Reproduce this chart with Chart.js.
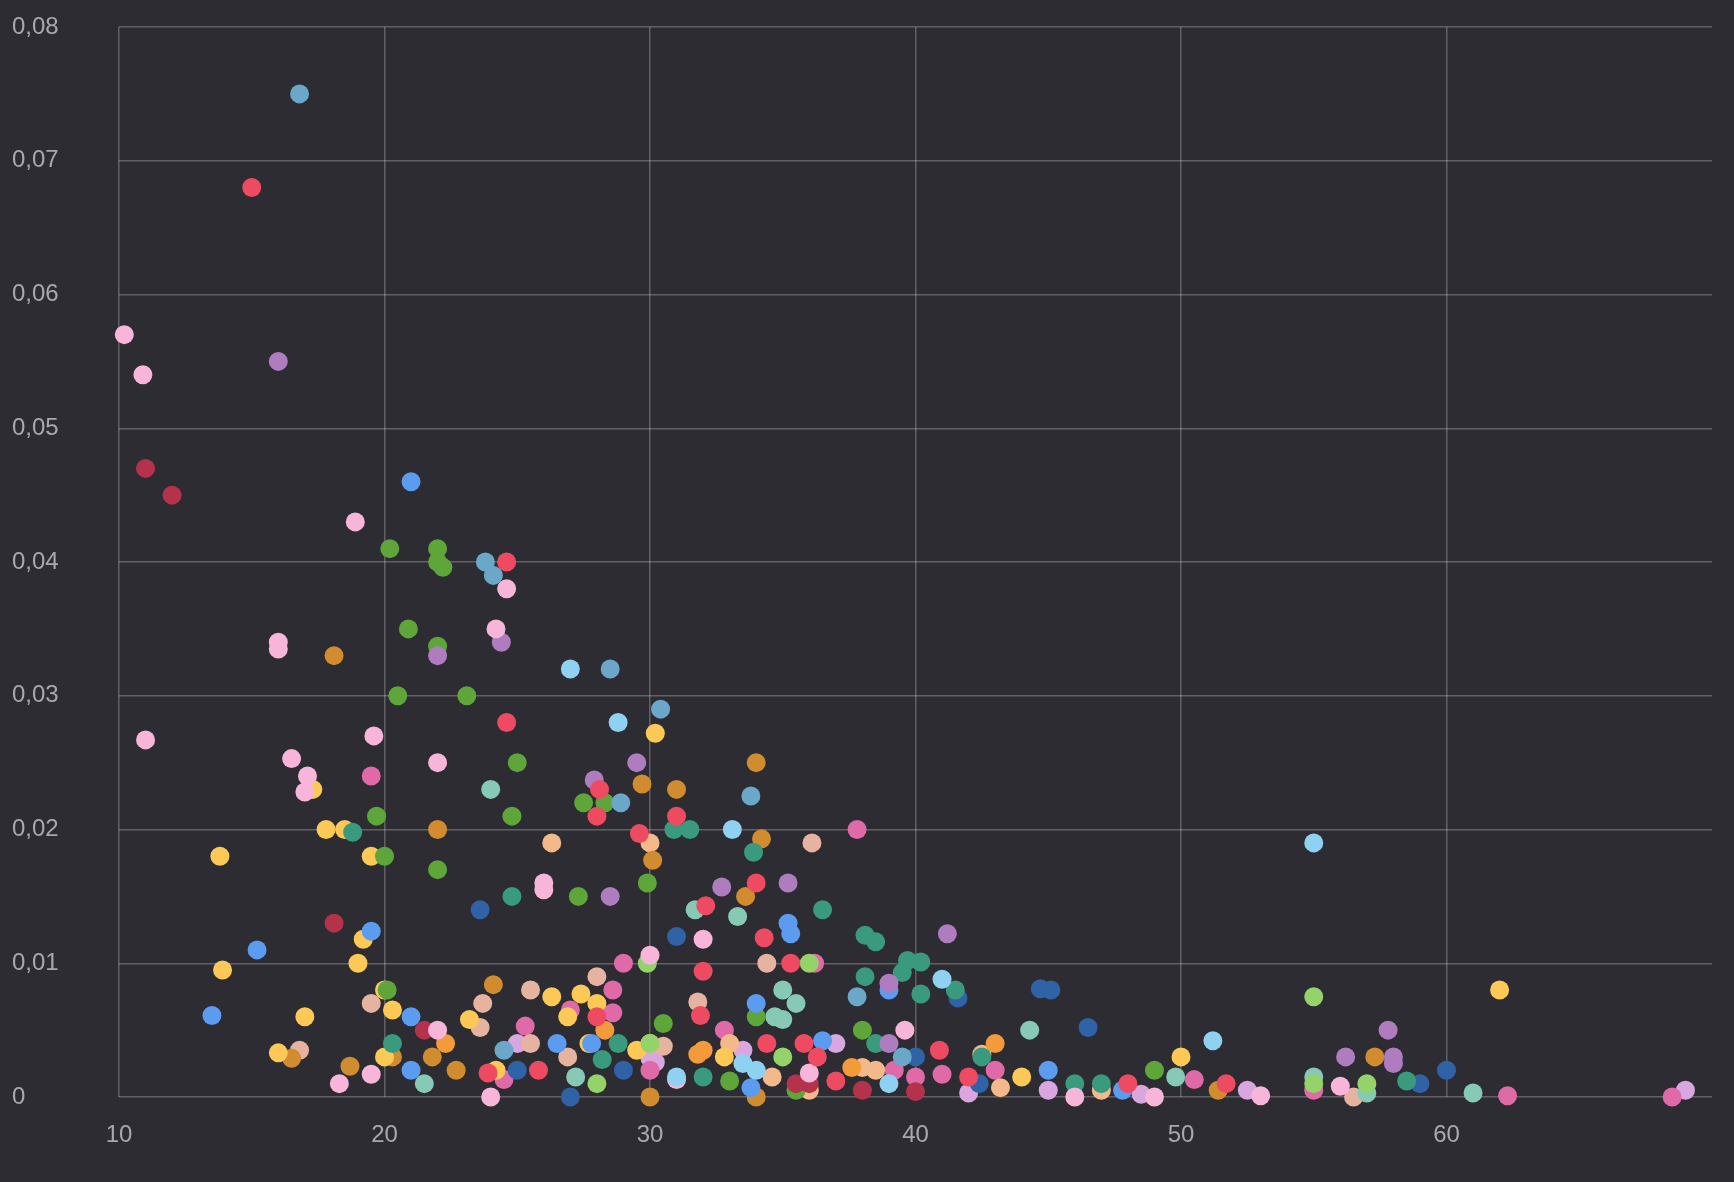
<!DOCTYPE html>
<html><head><meta charset="utf-8">
<script src="https://cdn.jsdelivr.net/npm/chart.js@4/dist/chart.umd.min.js"></script>
<style>html,body{margin:0;background:#2c2c32;}#w{width:1734px;height:1182px;}</style>
</head><body><div id="w"><canvas id="c"></canvas></div>
<script>
// points as [age, value in thousandths]
const xTicks = [10, 20, 30, 40, 50, 60];
const yTicks = [0, 0.01, 0.02, 0.03, 0.04, 0.05, 0.06, 0.07, 0.08];
const seriesColors = ['#8ed1f0','#6aa7c8','#ee4b62','#f7b6d9','#b5334a','#b07cc0','#5b9bf0','#5ea53a','#93d36a','#3a9a7e','#86c9b4','#2f63a6','#fdc956','#f39a3b','#d08c2e','#f4b98a','#e6b3a0','#e06aa7','#d9a6e0'];
const lightBlue = [[27,32],[28.8,28],[33.1,20],[55,19],[41,8.8],[51.2,4.2],[34,2],[31,1.5],[39,1],[33.5,2.5]];
const steelBlue = [[16.8,75],[23.8,40],[24.1,39],[28.5,32],[30.4,29],[28.9,22],[33.8,22.5],[37.8,7.5],[24.5,3.5],[39.5,3]];
const red = [[15,68],[24.6,40],[24.6,28],[28.1,23],[28,21],[29.6,19.7],[31,21],[32.1,14.3],[34,16],[34.3,11.9],[35.3,10],[32,9.4],[34.4,4],[35.8,4],[36.3,3],[40.9,3.5],[28,6],[31.9,6.1],[23.9,1.8],[25.8,2],[51.7,1],[42,1.5],[48,1],[37,1.2]];
const pinkLight = [[10.2,57],[10.9,54],[11,26.7],[18.9,43],[16,34],[16,33.5],[16.5,25.3],[17.1,24],[17,22.8],[19.6,27],[22,25],[24.2,35],[24.6,38],[26,16],[26,15.5],[32,11.8],[30,10.6],[39.6,5],[18.3,1],[19.5,1.7],[24,0],[46,0],[49,0],[56,0.8],[53,0.1],[22,5],[31,1.3],[36,1.8]];
const darkRed = [[11,47],[12,45],[18.1,13],[21.5,5],[36,1],[38,0.5],[40,0.4],[35.5,1]];
const purple = [[16,55],[22,33],[24.4,34],[27.9,23.7],[29.5,25],[28.5,15],[32.7,15.7],[35.2,16],[41.2,12.2],[39,8.5],[57.8,5],[56.2,3],[58,3],[58,2.5],[39,4]];
const blue = [[21,46],[15.2,11],[13.5,6.1],[19.5,12.4],[21,6],[21,2],[35.2,13],[35.3,12.2],[27.8,4],[45,2],[47.8,0.5],[34,7],[39,8],[36.5,4.2],[33.8,0.7],[26.5,4]];
const green = [[20.2,41],[22,41],[22,40],[22.2,39.6],[20.9,35],[20.5,30],[22,33.7],[23.1,30],[19.7,21],[20,18],[22,17],[25,25],[24.8,21],[27.5,22],[28.3,22],[29.9,16],[27.3,15],[34,6],[30.5,5.5],[20.1,8],[33,1.2],[49,2],[35.5,0.5],[38,5]];
const lightGreen = [[55,7.5],[36,10],[29.9,10],[35,3],[28,1],[57,1],[55,1],[30,4]];
const teal = [[18.8,19.8],[24.8,15],[30.9,20],[31.5,20],[33.9,18.3],[36.5,14],[38.1,12.1],[38.5,11.6],[39.7,10.2],[40.2,10.1],[39.5,9.3],[40.2,7.7],[41.5,8],[38.1,9],[42.5,3],[46,1],[47,1],[58.5,1.2],[20.3,4],[28.8,4],[32,1.5],[38.5,4],[28.2,2.8]];
const lightTeal = [[24,23],[31.7,14],[33.3,13.5],[35,8],[35.5,7],[34.7,6],[35,5.8],[44.3,5],[61,0.3],[21.5,1],[57,0.3],[55,1.5],[49.8,1.5],[27.2,1.5]];
const darkBlue = [[23.6,14],[31,12],[44.7,8.1],[45.1,8],[46.5,5.2],[41.6,7.4],[60,2],[59,1],[25,2],[27,0],[29,2],[40,3],[42.4,1]];
const yellow = [[13.8,18],[13.9,9.5],[17.3,23],[17.8,20],[18.5,20],[19.5,18],[19.2,11.8],[19,10],[16,3.3],[17,6],[20,8],[20.3,6.5],[23.2,5.8],[26.3,7.5],[27.4,7.7],[28,7],[26.9,6],[30.2,27.2],[30,4],[50,3],[62,8],[44,1.5],[29.5,3.5],[20,3],[24.2,2],[27.7,4],[32.8,3]];
const orange = [[22.3,4],[28.3,5],[32,3.5],[43,4],[37.6,2.2],[31.8,3.2]];
const ochre = [[18.1,33],[22,20],[29.7,23.4],[31,23],[34,25],[34.2,19.3],[30.1,17.7],[33.6,15],[24.1,8.4],[18.7,2.3],[16.5,2.9],[20.3,3],[22.7,2],[57.3,3],[51.4,0.5],[30,0],[34,0],[21.8,3]];
const peach = [[26.3,19],[30,19],[33,4],[38.5,2],[42.5,3.2],[36,0.5],[38,2.2],[47,0.5],[43.2,0.7],[34.6,1.5]];
const tan = [[36.1,19],[34.4,10],[28,9],[25.5,8],[23.7,7],[19.5,7],[23.6,5.2],[31.8,7.1],[56.5,0],[16.8,3.5],[30.5,3.8],[26.9,3],[25.5,4]];
const magenta = [[37.8,20],[19.5,24],[36.2,10],[29,10],[28.6,8],[27,6.5],[28.6,6.3],[25.3,5.3],[32.8,5],[68.5,0],[62.3,0.1],[50.5,1.3],[55,0.5],[40,1.5],[43,2],[24.5,1.3],[30,2],[41,1.7],[39.2,2]];
const lightPurple = [[69,0.5],[52.5,0.5],[30,2.9],[25,4],[33.5,3.5],[37,4],[45,0.5],[48.5,0.2],[30.2,2.6],[42,0.3]];

const groups = [lightBlue, steelBlue, red, pinkLight, darkRed, purple, blue, green, lightGreen, teal, lightTeal, darkBlue, yellow, orange, ochre, peach, tan, magenta, lightPurple];
const datasets = groups.map((g, i) => ({
  data: g.map(p => ({x: p[0], y: p[1] / 1000})),
  backgroundColor: seriesColors[i], borderWidth: 0, pointRadius: 9.5, pointHoverRadius: 9.5, clip: false
}));
const fmt = v => v === 0 ? '0' : v.toFixed(2).replace('.', ',');
const tickFont = {family: 'Liberation Sans', size: 24};
new Chart(document.getElementById('c'), {
  type: 'scatter',
  data: {datasets},
  options: {
    responsive: true, maintainAspectRatio: false, animation: false,
    layout: {padding: {top: 27, right: 22, left: 12, bottom: 0}},
    plugins: {legend: {display: false}, tooltip: {enabled: false}},
    scales: {
      x: {
        type: 'linear', min: 10, max: 70,
        afterFit: s => { s.height = 85; },
        afterBuildTicks: s => { s.ticks = xTicks.map(v => ({value: v})); },
        grid: {color: 'rgba(255,255,255,0.25)', lineWidth: 1.5, drawTicks: false},
        border: {display: false},
        ticks: {color: '#a8a8ae', font: tickFont, padding: 24, callback: v => String(v)}
      },
      y: {
        min: 0, max: 0.08,
        afterFit: s => { s.width = 107; },
        afterBuildTicks: s => { s.ticks = yTicks.map(v => ({value: v})); },
        grid: {color: 'rgba(255,255,255,0.25)', lineWidth: 1.5, drawTicks: false},
        border: {display: false},
        ticks: {color: '#a8a8ae', font: tickFont, crossAlign: 'far', padding: 8, callback: v => fmt(v)}
      }
    }
  }
});
</script></body></html>
